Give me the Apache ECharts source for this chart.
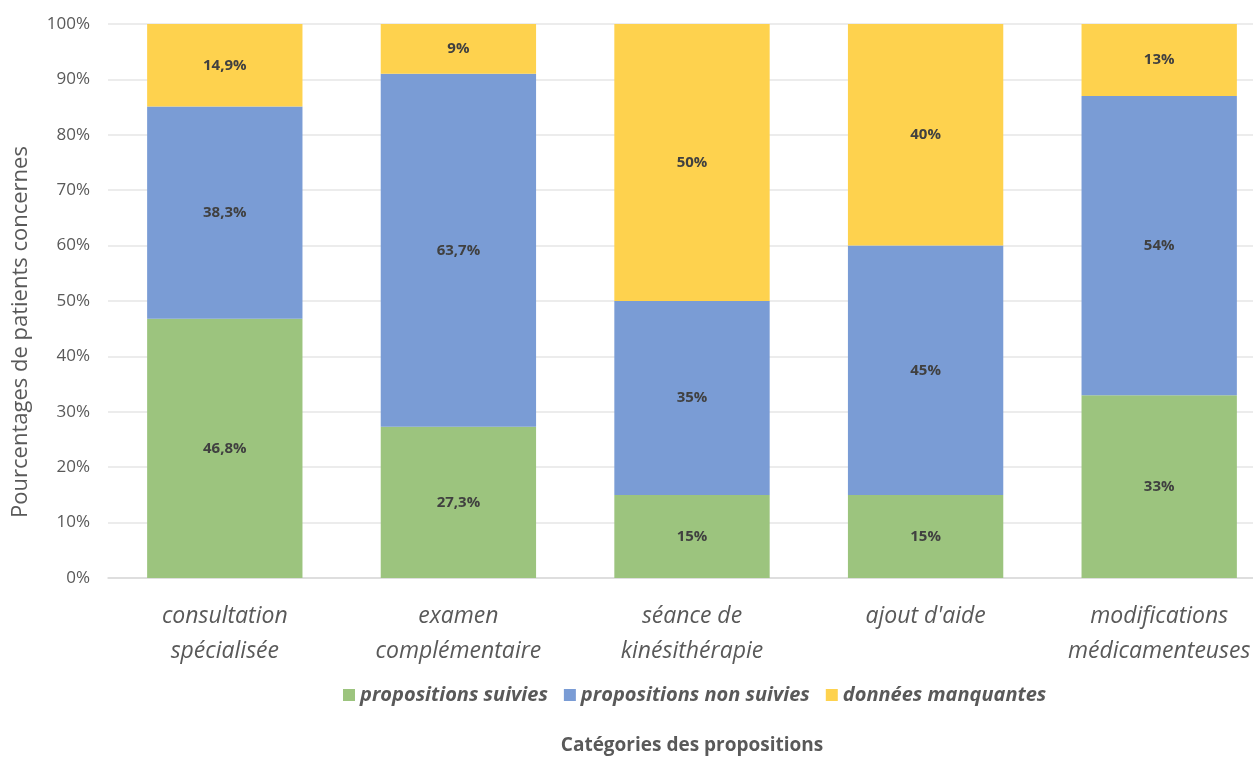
<!DOCTYPE html>
<html>
<head>
<meta charset="utf-8">
<script src="https://cdn.jsdelivr.net/npm/echarts@6/dist/echarts.min.js"></script>
<style>
html,body{margin:0;padding:0;background:#fff;}
#chart{width:1253px;height:758px;}
</style>
</head>
<body>
<div id="chart"></div>
<script>
const categories = ["consultation\nspécialisée", "examen\ncomplémentaire", "séance de\nkinésithérapie", "ajout d'aide", "modifications\nmédicamenteuses"];
const suivies = [46.8, 27.3, 15, 15, 33];
const nonSuivies = [38.3, 63.7, 35, 45, 54];
const manquantes = [14.9, 9, 50, 40, 13];
const labelsSuivies = ["46,8%", "27,3%", "15%", "15%", "33%"];
const labelsNonSuivies = ["38,3%", "63,7%", "35%", "45%", "54%"];
const labelsManquantes = ["14,9%", "9%", "50%", "40%", "13%"];
const seriesNames = ["propositions suivies", "propositions non suivies", "données manquantes"];

const FONT = '"Open Sans", sans-serif';
const chart = echarts.init(document.getElementById('chart'));
function mk(name, data, labels, color) {
  return {
    name: name, type: 'bar', stack: 'total', data: data,
    barCategoryGap: '33.5%',
    itemStyle: { color: color },
    label: {
      show: true, position: 'inside',
      formatter: p => labels[p.dataIndex],
      color: '#404040', fontWeight: 'bold', fontSize: 15, fontFamily: FONT
    }
  };
}
chart.setOption({
  animation: false,
  grid: { left: 108, top: 24, width: 1168, height: 554, containLabel: false, outerBoundsMode: 'none' },
  legend: {
    top: 680, left: 338, itemWidth: 12, itemHeight: 12, itemGap: 16,
    icon: 'rect',
    textStyle: { color: '#595959', fontSize: 20, fontStyle: 'italic', fontWeight: 'bold', fontFamily: FONT }
  },
  xAxis: {
    type: 'category', data: categories,
    name: 'Catégories des propositions', nameLocation: 'middle', nameGap: 158,
    nameTextStyle: { color: '#595959', fontSize: 19, fontWeight: 'bold', fontFamily: FONT },
    axisLine: { lineStyle: { color: '#d9d9d9', width: 1.5 } },
    axisTick: { show: false },
    axisLabel: { color: '#595959', fontSize: 23, fontStyle: 'italic', fontFamily: FONT, lineHeight: 35, margin: 21, interval: 0 }
  },
  yAxis: {
    type: 'value', min: 0, max: 100, interval: 10,
    name: 'Pourcentages de patients concernes', nameLocation: 'middle', nameGap: 76,
    nameTextStyle: { color: '#595959', fontSize: 22, fontFamily: FONT, padding: [0, 62, 0, 0] },
    axisLabel: { formatter: '{value}%', color: '#595959', fontSize: 17, fontFamily: FONT, margin: 18 },
    splitLine: { lineStyle: { color: '#e6e6e6', width: 1.5 } },
    axisLine: { show: false }, axisTick: { show: false }
  },
  series: [
    mk(seriesNames[0], suivies, labelsSuivies, '#9CC47E'),
    mk(seriesNames[1], nonSuivies, labelsNonSuivies, '#7A9CD5'),
    mk(seriesNames[2], manquantes, labelsManquantes, '#FED24E')
  ]
});
</script>
</body>
</html>
